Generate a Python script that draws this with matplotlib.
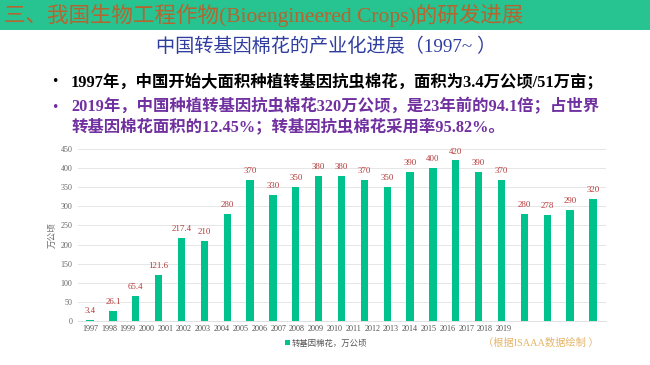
import numpy as np
import matplotlib
matplotlib.use("Agg")
import matplotlib.pyplot as plt
from matplotlib.patches import Rectangle

years = [str(y) for y in range(1997, 2020)]
values = [3.4, 26.1, 65.4, 121.6, 217.4, 210, 280, 370, 330, 350, 380, 380,
          370, 350, 390, 400, 420, 390, 370, 280, 278, 290, 320]
value_labels = ["3.4", "26.1", "65.4", "121.6", "217.4", "210", "280", "370", "330",
                "350", "380", "380", "370", "350", "390", "400", "420", "390",
                "370", "280", "278", "290", "320"]
y_ticks = [0, 50, 100, 150, 200, 250, 300, 350, 400, 450]

header = "三、我国生物工程作物(Bioengineered Crops)的研发进展"
subtitle = "中国转基因棉花的产业化进展（1997~ ）"
bullet1 = "1997年，中国开始大面积种植转基因抗虫棉花，面积为3.4万公顷/51万亩；"
bullet2a = "2019年，中国种植转基因抗虫棉花320万公顷，是23年前的94.1倍；占世界"
bullet2b = "转基因棉花面积的12.45%；转基因抗虫棉花采用率95.82%。"
legend_label = "转基因棉花，万公顷"
ylabel = "万公顷"
source = "（根据ISAAA数据绘制 ）"

SERIF = ["Liberation Serif", "Noto Sans CJK SC", "DejaVu Sans"]
SANS = ["Noto Sans CJK SC", "DejaVu Sans"]
plt.rcParams['font.family'] = SERIF

W, H = 650, 365
fig = plt.figure(figsize=(6.5, 3.65), dpi=100)
fig.patch.set_facecolor("white")

def fx(x): return x / W
def fy(y): return 1 - y / H

# header band
fig.patches.append(Rectangle((0, fy(30)), 1, 30 / H, transform=fig.transFigure,
                             facecolor="#27c391", edgecolor="none", zorder=0))
fig.text(fx(4), fy(15), header, fontsize=15.5, color="#b5652f", va="center", ha="left",
         family=SERIF)
fig.text(fx(326), fy(47), subtitle, fontsize=13.8, color="#2f3d9f", va="center", ha="center",
         family=SERIF)

fig.text(fx(55), fy(82), "•", fontsize=9, color="black", va="center", ha="center",
         family=["DejaVu Sans"])
fig.text(fx(71), fy(82), bullet1, fontsize=11.8, color="black", va="center", ha="left",
         family=SERIF, weight="bold")
fig.text(fx(55), fy(107), "•", fontsize=9, color="#7030a0", va="center", ha="center",
         family=["DejaVu Sans"])
fig.text(fx(71), fy(107), bullet2a, fontsize=11.8, color="#7030a0", va="center", ha="left",
         family=SERIF, weight="bold")
fig.text(fx(71), fy(127), bullet2b, fontsize=11.8, color="#7030a0", va="center", ha="left",
         family=SERIF, weight="bold")

# chart
ax = fig.add_axes([fx(78), fy(321), fx(606) - fx(78), (321 - 149) / H])
x = np.arange(len(values))
bar_color = "#00c28c"
bars = ax.bar(x, values, width=0.32, color=bar_color, zorder=2, label=legend_label)
for xi, v, lab in zip(x, values, value_labels):
    ax.annotate(lab, (xi, v), xytext=(0, 3.5), textcoords="offset points",
                ha="center", va="bottom", fontsize=6.4, color="#b53a3a", family=SERIF)

ax.set_xlim(-0.53, len(values) - 1 + 0.57)
ax.set_ylim(0, 450)
ax.set_yticks(y_ticks)
ax.set_yticklabels([str(t) for t in y_ticks], fontsize=5.8, color="#666666", family=SERIF)
ax.yaxis.grid(True, color="#e6e6e6", linewidth=0.7, zorder=0)
ax.set_axisbelow(True)
for s in ["top", "right", "left"]:
    ax.spines[s].set_visible(False)
ax.spines["bottom"].set_color("#e0e0e0")
ax.spines["bottom"].set_linewidth(0.7)
ax.tick_params(axis="both", length=0, pad=4)

# tick labels as in the reference (compressed under the first 19 bars)
ax.set_xticks(np.linspace(0, 18.1, len(years)))
ax.set_xticklabels(years, fontsize=5.9, color="#555555", family=SERIF)
ax.tick_params(axis="x", pad=3)

ax.set_ylabel(ylabel, fontsize=6.2, color="#666666", family=SANS, labelpad=3)

leg = fig.legend(handles=[bars], labels=[legend_label], loc="center",
                 bbox_to_anchor=(fx(326), fy(343)), frameon=False,
                 prop={"family": SANS, "size": 6}, handlelength=0.6, handleheight=0.6,
                 handletextpad=0.2, borderpad=0)
for t in leg.get_texts():
    t.set_color("#555555")

fig.text(fx(483), fy(343), source, fontsize=7.4, color="#e4b468", va="center", ha="left",
         family=SERIF)

fig.savefig("out.png", dpi=100, facecolor="white")
